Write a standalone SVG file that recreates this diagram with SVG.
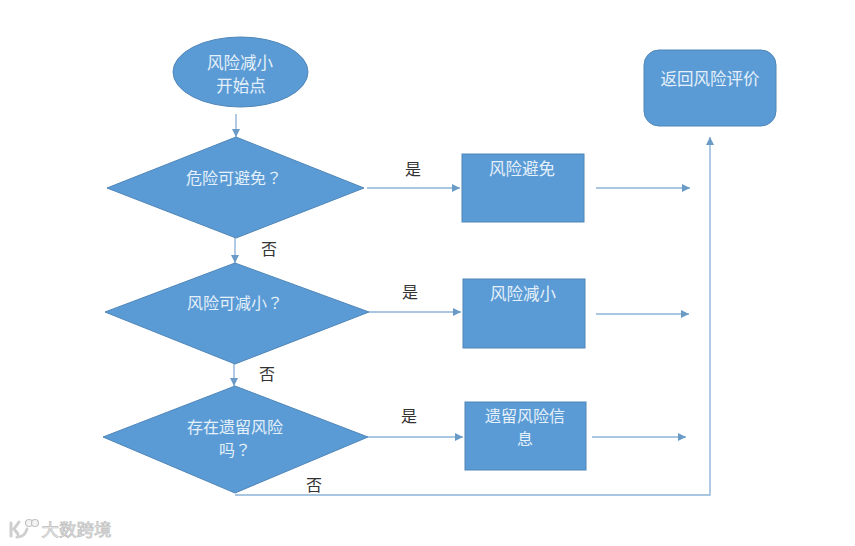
<svg xmlns="http://www.w3.org/2000/svg" width="855" height="546" viewBox="0 0 855 546">
<style>
text{font-family:"Noto Sans CJK SC","Liberation Sans",sans-serif;text-anchor:middle}
.q{font-family:"Noto Sans CJK TC","Liberation Sans",sans-serif}
.s{fill:#5b9bd5;stroke:#4f86b8;stroke-width:1}
.t{fill:#e4f0fa;font-size:16.500px}
.u{fill:#e4f0fa;font-size:16px}
.l{fill:#333;font-size:16px}
.c{fill:none;stroke:#8db4d6;stroke-width:1.400;marker-end:url(#a)}
.w{fill:#eeeeee;stroke:#bdbdbd;stroke-width:.7;font-size:17.500px}
.g{fill:none;stroke:#cfcfcf;stroke-width:3;stroke-linecap:round}
.h{fill:#f4f4f4;stroke:#c4c4c4;stroke-width:1.200}
</style>
<defs><marker id="a" markerUnits="userSpaceOnUse" markerWidth="9" markerHeight="9" refX="8" refY="4" orient="auto"><path d="M0 0L8 4L0 8Z" fill="#6a9bc6"/></marker></defs>
<rect width="855" height="546" fill="#fff"/>
<g id="connectors">
<path class="c" d="M236 114V137"/>
<path class="c" d="M367 188H460"/>
<path class="c" d="M596 188H690"/>
<path class="c" d="M235 238V263"/>
<path class="c" d="M369 312H461"/>
<path class="c" d="M596 314H689"/>
<path class="c" d="M234 364V386"/>
<path class="c" d="M368 437H463"/>
<path class="c" d="M592 437H686"/>
<path class="c" d="M235 495H710V137"/>
<text class="l" x="413" y="175">是</text>
<text class="l" x="410" y="298">是</text>
<text class="l" x="409" y="422">是</text>
<text class="l" x="269" y="255">否</text>
<text class="l" x="267" y="380">否</text>
<text class="l" x="314" y="491">否</text>
</g>
<g id="start"><ellipse class="s" cx="240.500" cy="72" rx="67.500" ry="35"/><text class="t" x="240" y="69">风险减小</text><text class="t" x="241" y="92">开始点</text></g>
<g id="d1"><path class="s" d="M236 137L364 188L236 238L107 188Z"/><text class="u" x="234" y="184">危险可避免<tspan class="q">？</tspan></text></g>
<g id="d2"><path class="s" d="M235 263L369 312L235 364L105 312Z"/><text class="u" x="235" y="309">风险可减小<tspan class="q">？</tspan></text></g>
<g id="d3"><path class="s" d="M235 386L368 437L235 493L103 437Z"/><text class="u" x="235" y="433">存在遗留风险</text><text class="u" x="235" y="456">吗<tspan class="q">？</tspan></text></g>
<g id="r1"><rect class="s" x="462" y="154" width="122" height="68"/><text class="t" x="522" y="175">风险避免</text></g>
<g id="r2"><rect class="s" x="463" y="279" width="122" height="69"/><text class="t" x="523" y="300">风险减小</text></g>
<g id="r3"><rect class="s" x="465" y="402" width="121" height="68"/><text class="u" x="525" y="422">遗留风险信</text><text class="u" x="525" y="445">息</text></g>
<g id="back"><rect class="s" x="644" y="50" width="132" height="76" rx="15"/><text class="t" x="710" y="85">返回风险评价</text></g>
<g id="watermark"><path class="g" d="M11 523V536M19 522L14 529L18 534M17 537Q25 537 27 529"/><circle class="h" cx="29" cy="523" r="3.500"/><circle class="h" cx="35" cy="523" r="3.500"/><text class="w" x="76.500" y="536">大数跨境</text></g>
</svg>
